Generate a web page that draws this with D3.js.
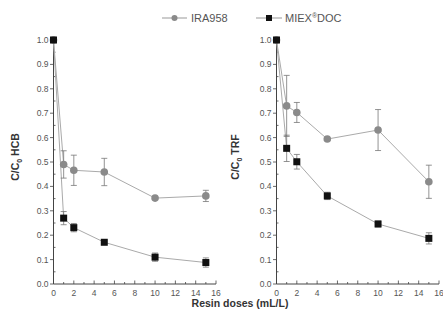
<!DOCTYPE html>
<html>
<head>
<meta charset="utf-8">
<script src="https://cdn.jsdelivr.net/npm/d3@7"></script>
<style>
  body { margin: 0; background: #fff; }
  text { font-family: "Liberation Sans", Arial, sans-serif; }
</style>
</head>
<body>
<div id="chart"></div>
<script>
// doses (mL/L)
let doses = [0, 1, 2, 5, 10, 15];

// HCB panel
let hcbIRA = [1.0, 0.49, 0.466, 0.459, 0.352, 0.361];
let hcbIRAErr = [0, 0.056, 0.062, 0.056, 0.005, 0.023];
let hcbMIEX = [1.0, 0.27, 0.231, 0.171, 0.11, 0.088];
let hcbMIEXErr = [0, 0.027, 0.017, 0.006, 0.017, 0.019];

// TRF panel
let trfIRA = [1.0, 0.73, 0.703, 0.594, 0.631, 0.419];
let trfIRAErr = [0, 0.125, 0.041, 0.006, 0.084, 0.068];
let trfMIEX = [1.0, 0.556, 0.501, 0.361, 0.246, 0.187];
let trfMIEXErr = [0, 0.054, 0.03, 0.015, 0.012, 0.023];

let xTicks = [0, 2, 4, 6, 8, 10, 12, 14, 16];
let yTicks = [0, 0.1, 0.2, 0.3, 0.4, 0.5, 0.6, 0.7, 0.8, 0.9, 1.0];
let seriesNames = ["IRA958", "MIEX"];

let width = 443, height = 323;

let svg = d3.select("#chart")
    .append("svg")
    .attr("width", width)
    .attr("height", height);

let y = d3.scaleLinear().domain([0, 1]).range([284, 40]);

let panels = [
    { x0: 53.5, x1: 216, title: "HCB", ira: hcbIRA, iraErr: hcbIRAErr, miex: hcbMIEX, miexErr: hcbMIEXErr, titleX: 15 },
    { x0: 276.5, x1: 439, title: "TRF", ira: trfIRA, iraErr: trfIRAErr, miex: trfMIEX, miexErr: trfMIEXErr, titleX: 235 }
];

let axisColor = "#444";
let tickColor = "#555";

panels.forEach(function (p) {
    let x = d3.scaleLinear().domain([0, 16]).range([p.x0, p.x1]);
    let g = svg.append("g");

    // x axis
    g.append("line")
        .attr("x1", x(0)).attr("x2", x(16))
        .attr("y1", y(0)).attr("y2", y(0))
        .attr("stroke", axisColor).attr("stroke-width", 1);
    g.selectAll(".xt")
        .data(d3.range(0, 17, 1))
        .enter().append("line")
        .attr("x1", d => x(d)).attr("x2", d => x(d))
        .attr("y1", y(0)).attr("y2", d => y(0) - (d % 2 === 0 ? 3.5 : 2))
        .attr("stroke", axisColor).attr("stroke-width", 0.8);
    g.selectAll(".xl")
        .data(xTicks)
        .enter().append("text")
        .attr("x", d => x(d)).attr("y", y(0) + 12)
        .attr("text-anchor", "middle")
        .attr("font-size", 8.5)
        .attr("fill", tickColor)
        .text(d => d);

    // y axis
    g.append("line")
        .attr("x1", x(0)).attr("x2", x(0))
        .attr("y1", y(0)).attr("y2", y(1))
        .attr("stroke", axisColor).attr("stroke-width", 1);
    g.selectAll(".yt")
        .data(yTicks)
        .enter().append("line")
        .attr("x1", x(0) - 3.5).attr("x2", x(0))
        .attr("y1", d => y(d)).attr("y2", d => y(d))
        .attr("stroke", axisColor).attr("stroke-width", 0.8);
    g.selectAll(".ym")
        .data(d3.range(0.05, 1, 0.1))
        .enter().append("line")
        .attr("x1", x(0)).attr("x2", x(0) + 2)
        .attr("y1", d => y(d)).attr("y2", d => y(d))
        .attr("stroke", axisColor).attr("stroke-width", 0.8);
    g.selectAll(".yl")
        .data(yTicks)
        .enter().append("text")
        .attr("x", x(0) - 5).attr("y", d => y(d) + 3)
        .attr("text-anchor", "end")
        .attr("font-size", 8.5)
        .attr("fill", tickColor)
        .text(d => d.toFixed(1));

    // y title
    let t = g.append("text")
        .attr("transform", "translate(" + (p.titleX + 4) + ",157) rotate(-90)")
        .attr("text-anchor", "middle")
        .attr("font-size", 10.5)
        .attr("font-weight", "bold")
        .attr("fill", "#333");
    t.append("tspan").text("C/C");
    t.append("tspan").attr("font-size", 7).attr("dy", 3).text("0");
    t.append("tspan").attr("dy", -3).text(" " + p.title);

    let line = d3.line().x((d, i) => x(doses[i])).y(d => y(d));

    let series = [
        { vals: p.ira, err: p.iraErr, shape: "circle" },
        { vals: p.miex, err: p.miexErr, shape: "square" }
    ];

    series.forEach(function (s) {
        g.append("path")
            .attr("d", line(s.vals))
            .attr("fill", "none")
            .attr("stroke", "#aaa")
            .attr("stroke-width", 1);
    });

    series.forEach(function (s) {
        // error bars
        s.vals.forEach(function (v, i) {
            if (s.err[i] <= 0.004) return;
            let cx = x(doses[i]);
            let top = y(v + s.err[i]), bot = y(v - s.err[i]);
            g.append("line").attr("x1", cx).attr("x2", cx).attr("y1", top).attr("y2", bot)
                .attr("stroke", "#777").attr("stroke-width", 0.8);
            [top, bot].forEach(function (yy) {
                g.append("line").attr("x1", cx - 3).attr("x2", cx + 3).attr("y1", yy).attr("y2", yy)
                    .attr("stroke", "#777").attr("stroke-width", 0.8);
            });
        });
    });

    // markers: circles first, squares on top
    g.selectAll(".c")
        .data(p.ira)
        .enter().append("circle")
        .attr("cx", (d, i) => x(doses[i]))
        .attr("cy", d => y(d))
        .attr("r", 3.8)
        .attr("fill", "#8a8a8a");
    g.selectAll(".s")
        .data(p.miex)
        .enter().append("rect")
        .attr("x", (d, i) => x(doses[i]) - 3.5)
        .attr("y", d => y(d) - 3.5)
        .attr("width", 7).attr("height", 7)
        .attr("fill", "#111");
});

// x axis title
svg.append("text")
    .attr("x", 240).attr("y", 307)
    .attr("text-anchor", "middle")
    .attr("font-size", 10.5)
    .attr("font-weight", "bold")
    .attr("fill", "#333")
    .text("Resin doses (mL/L)");

// legend
let legend = svg.append("g");
legend.append("line").attr("x1", 162).attr("x2", 187).attr("y1", 18).attr("y2", 18)
    .attr("stroke", "#999").attr("stroke-width", 1);
legend.append("circle").attr("cx", 174.5).attr("cy", 18).attr("r", 3).attr("fill", "#8a8a8a");
legend.append("text").attr("x", 191).attr("y", 22).attr("font-size", 11).attr("fill", "#555")
    .text(seriesNames[0]);

legend.append("line").attr("x1", 256).attr("x2", 282).attr("y1", 18).attr("y2", 18)
    .attr("stroke", "#999").attr("stroke-width", 1);
legend.append("rect").attr("x", 266).attr("y", 15).attr("width", 6).attr("height", 6).attr("fill", "#111");
let lt = legend.append("text").attr("x", 285).attr("y", 22).attr("font-size", 11).attr("fill", "#555");
lt.append("tspan").text(seriesNames[1]);
lt.append("tspan").attr("font-size", 7).attr("dy", -4).text("®");
lt.append("tspan").attr("dy", 4).text("DOC");
</script>
</body>
</html>
